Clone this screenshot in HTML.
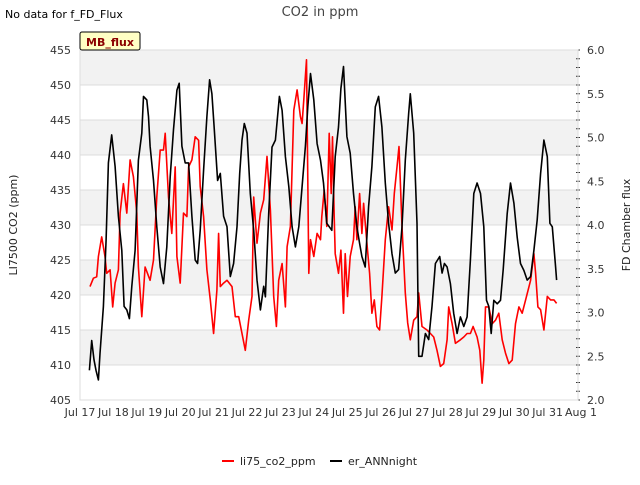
<!DOCTYPE html>
<html><head><meta charset="utf-8"><style>
body{margin:0;background:#fff;font-family:"Liberation Sans","DejaVu Sans",sans-serif;}
svg text{font-family:"DejaVu Sans","Liberation Sans",sans-serif;}
</style></head><body>
<svg id="c" width="640" height="480" xmlns="http://www.w3.org/2000/svg">
<text x="5" y="18" font-size="11" fill="#000">No data for f_FD_Flux</text>
<text x="320" y="16" font-size="13" fill="#444" text-anchor="middle">CO2 in ppm</text>
<g id="plot"></g>
<text transform="translate(17,225) rotate(-90)" font-size="11" fill="#222" text-anchor="middle">LI7500 CO2 (ppm)</text>
<text transform="translate(630,225) rotate(-90)" font-size="11" fill="#222" text-anchor="middle">FD Chamber flux</text>
<g>
<line x1="222" y1="461" x2="234" y2="461" stroke="#f00" stroke-width="2"/>
<text x="240" y="465" font-size="11" fill="#222">li75_co2_ppm</text>
<line x1="330" y1="461" x2="342" y2="461" stroke="#000" stroke-width="2"/>
<text x="348" y="465" font-size="11" fill="#222">er_ANNnight</text>
</g>
</svg>
<script>
const xLabels=["Jul 17","Jul 18","Jul 19","Jul 20","Jul 21","Jul 22","Jul 23","Jul 24","Jul 25","Jul 26","Jul 27","Jul 28","Jul 29","Jul 30","Jul 31","Aug 1"];
const leftTicks=[405,410,415,420,425,430,435,440,445,450,455];
const rightTicks=[2.0,2.5,3.0,3.5,4.0,4.5,5.0,5.5,6.0];
const co2Days=[0.30,0.40,0.50,0.55,0.65,0.75,0.80,0.90,0.98,1.05,1.15,1.20,1.30,1.40,1.50,1.60,1.70,1.75,1.85,1.95,2.10,2.20,2.30,2.40,2.50,2.55,2.65,2.75,2.85,2.90,3.00,3.10,3.20,3.25,3.35,3.45,3.55,3.60,3.70,3.80,3.90,4.00,4.10,4.15,4.20,4.30,4.40,4.55,4.65,4.75,4.85,4.95,5.05,5.15,5.20,5.30,5.40,5.50,5.60,5.70,5.80,5.88,5.95,6.05,6.15,6.20,6.30,6.40,6.50,6.60,6.65,6.70,6.78,6.85,6.90,7.00,7.10,7.20,7.24,7.31,7.39,7.46,7.52,7.56,7.61,7.64,7.74,7.81,7.89,7.94,8.01,8.09,8.19,8.24,8.29,8.37,8.44,8.49,8.59,8.67,8.74,8.81,8.89,8.97,9.04,9.14,9.24,9.34,9.41,9.49,9.55,9.64,9.74,9.81,9.89,9.99,10.09,10.14,10.24,10.39,10.49,10.59,10.69,10.79,10.89,10.99,11.04,11.14,11.24,11.39,11.49,11.59,11.69,11.77,11.89,11.97,12.04,12.09,12.14,12.24,12.34,12.44,12.54,12.64,12.74,12.84,12.94,13.04,13.14,13.24,13.34,13.49,13.59,13.64,13.71,13.79,13.89,13.99,14.09,14.19,14.27];
const co2Vals=[421.2,422.4,422.6,425.5,428.3,425.5,423.1,423.6,418.3,421.7,423.6,431.7,435.9,431.7,439.3,436.9,431.7,424.0,416.9,424.0,422.1,425.0,434.0,440.7,440.7,443.1,434.0,428.8,438.3,425.5,421.7,431.7,431.2,438.3,439.3,442.6,442.1,435.5,431.2,423.6,419.3,414.5,420.7,428.8,421.2,421.7,422.1,421.2,416.9,416.9,414.5,412.1,416.4,419.8,434.0,427.4,431.7,433.6,439.8,432.1,419.8,415.5,422.1,424.5,418.3,426.9,429.8,446.4,449.3,445.5,444.5,447.9,453.6,423.1,427.9,425.5,428.8,427.9,431.2,435.0,429.8,443.1,434.5,442.6,431.2,425.9,423.1,426.4,417.4,425.9,419.8,425.5,427.9,432.6,427.9,434.5,428.8,433.1,427.4,423.1,417.4,419.3,415.5,415.0,419.8,427.9,432.6,429.3,434.5,438.3,441.2,429.8,420.3,416.0,413.6,416.4,416.9,420.3,415.5,415.0,414.5,414.0,412.1,409.8,410.2,413.6,418.3,415.9,413.1,413.6,414.0,414.5,414.5,415.5,414.0,412.1,407.4,410.7,418.3,418.3,415.9,416.4,417.4,413.6,411.7,410.2,410.7,415.9,418.3,417.4,419.3,422.1,425.9,423.1,418.3,417.9,415.0,419.8,419.3,419.3,418.8];
const annDays=[0.28,0.35,0.42,0.48,0.55,0.60,0.70,0.78,0.85,0.95,1.05,1.15,1.25,1.32,1.40,1.48,1.55,1.65,1.75,1.85,1.90,2.00,2.05,2.10,2.20,2.30,2.40,2.50,2.60,2.70,2.80,2.90,2.97,3.05,3.15,3.25,3.35,3.45,3.52,3.60,3.70,3.80,3.88,3.95,4.02,4.12,4.20,4.30,4.40,4.50,4.60,4.70,4.78,4.85,4.92,5.00,5.10,5.20,5.30,5.40,5.50,5.55,5.65,5.75,5.85,5.97,6.05,6.15,6.25,6.35,6.45,6.55,6.65,6.75,6.82,6.90,7.00,7.10,7.20,7.29,7.39,7.54,7.64,7.74,7.81,7.89,7.99,8.09,8.19,8.29,8.37,8.44,8.54,8.64,8.74,8.84,8.94,9.04,9.14,9.24,9.34,9.44,9.54,9.64,9.74,9.84,9.89,9.99,10.09,10.14,10.24,10.34,10.44,10.54,10.64,10.77,10.84,10.91,10.99,11.09,11.19,11.29,11.39,11.49,11.59,11.69,11.79,11.89,11.99,12.09,12.17,12.24,12.31,12.39,12.49,12.59,12.67,12.79,12.89,12.99,13.09,13.19,13.29,13.39,13.49,13.59,13.69,13.79,13.89,13.99,14.07,14.14,14.24,14.27];
const annVals=[2.34,2.68,2.46,2.34,2.23,2.53,3.07,3.83,4.71,5.03,4.67,4.10,3.71,3.07,3.03,2.93,3.30,3.71,4.74,5.05,5.47,5.43,5.24,4.90,4.51,3.98,3.52,3.33,3.75,4.55,5.09,5.54,5.62,4.90,4.71,4.71,4.10,3.60,3.56,3.94,4.63,5.24,5.66,5.50,5.09,4.51,4.59,4.10,3.98,3.41,3.56,3.98,4.59,4.97,5.16,5.05,4.36,3.94,3.37,3.03,3.30,3.18,4.13,4.89,4.97,5.47,5.31,4.78,4.44,3.98,3.75,3.98,4.44,4.90,5.35,5.73,5.43,4.93,4.74,4.48,4.02,3.94,4.78,5.12,5.56,5.81,5.01,4.82,4.36,3.98,3.79,3.64,3.52,4.21,4.67,5.35,5.47,5.12,4.48,4.02,3.67,3.45,3.49,3.98,4.74,5.28,5.50,5.05,4.02,2.50,2.50,2.76,2.69,3.07,3.56,3.64,3.45,3.56,3.52,3.33,2.99,2.76,2.95,2.84,2.95,3.60,4.36,4.48,4.36,3.98,3.14,3.07,2.76,3.14,3.10,3.14,3.49,4.13,4.48,4.25,3.86,3.56,3.48,3.37,3.41,3.71,4.06,4.59,4.97,4.78,4.02,3.98,3.52,3.37];

const L=80,R=578,T=50,B=400;
const xS=d=>L+d*33.4;
const yL=v=>B-(v-405)*(B-T)/50;
const yR=v=>B-(v-2)*(B-T)/4;
const NS="http://www.w3.org/2000/svg";
const g=document.getElementById('plot');
function mk(tag,attrs,parent){const e=document.createElementNS(NS,tag);for(const k in attrs)e.setAttribute(k,attrs[k]);(parent||g).appendChild(e);return e;}
// bands
for(let i=0;i<leftTicks.length-1;i++){
  if(i%2===1){
    const b=mk('rect',{x:L,y:yL(leftTicks[i+1]),width:R-L,height:yL(leftTicks[i])-yL(leftTicks[i+1]),fill:'#f2f2f2'});
    
    
  }
}
leftTicks.forEach(v=>{
  const l=mk('line',{x1:L,x2:R,y1:yL(v),y2:yL(v),stroke:'#dcdcdc','stroke-width':1});
  
  
  const t=mk('text',{x:L-9,y:yL(v)+4,'font-size':11,fill:'#333','text-anchor':'end'});
  t.textContent=v;
  
  
});
rightTicks.forEach(v=>{
  const t=mk('text',{x:587,y:yR(v)+4,'font-size':11,fill:'#333'});
  t.textContent=v.toFixed(1);
  
  
});
for(let v=2.0;v<=6.001;v+=0.1){
  const m=mk('line',{x1:R-2,x2:R+2,y1:yR(v),y2:yR(v),stroke:'#333','stroke-width':1});
  
  
}
const frame=mk('rect',{x:L,y:T,width:R-L,height:B-T,fill:'none',stroke:'#ddd'});


xLabels.forEach((s,i)=>{
  const t=mk('text',{x:xS(i),y:416,'font-size':11,fill:'#333','text-anchor':'middle'});
  t.textContent=s;
  
  
});
const p1=mk('polyline',{points:co2Days.map((d,i)=>xS(d).toFixed(1)+','+yL(co2Vals[i]).toFixed(1)).join(' '),fill:'none',stroke:'#f00','stroke-width':1.6,'stroke-linejoin':'round'});


const p2=mk('polyline',{points:annDays.map((d,i)=>xS(d).toFixed(1)+','+yR(annVals[i]).toFixed(1)).join(' '),fill:'none',stroke:'#000','stroke-width':1.6,'stroke-linejoin':'round'});


const bx=mk('rect',{x:80,y:32,width:60,height:18,fill:'#ffffc4',stroke:'#000','stroke-width':1,rx:2});


const bt=mk('text',{x:110,y:46,'font-size':11,'font-weight':'bold',fill:'#8b0000','text-anchor':'middle'});
bt.textContent='MB_flux';


</script>
</body></html>
